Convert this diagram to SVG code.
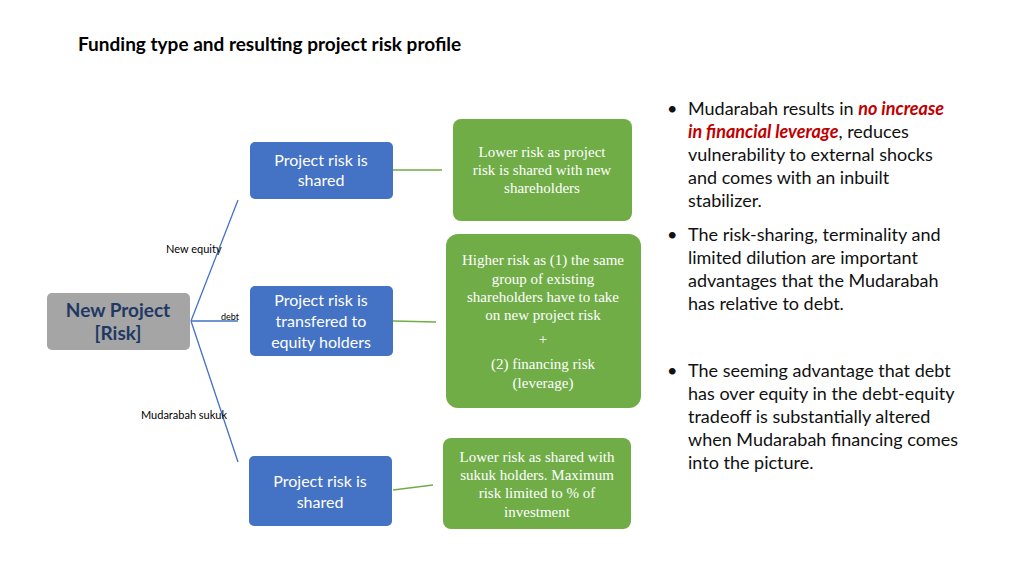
<svg xmlns="http://www.w3.org/2000/svg" width="1024" height="575" viewBox="0 0 1024 575">
<style>
.s{font-family:Lato,"Open Sans",sans-serif}
.b{fill:#4472c4}
.g{fill:#70ad47}
.bt{font-family:Lato,"Open Sans",sans-serif;font-size:16px;fill:#fff;text-anchor:middle}
.gt{font-family:"Liberation Serif",serif;font-size:15px;fill:#fff;text-anchor:middle}
.lb{font-family:Lato,"Open Sans",sans-serif;fill:#000}
.bl{font-family:Lato,"Open Sans",sans-serif;font-size:18px;fill:#111}
</style>
<rect width="1024" height="575" fill="#fff"/>
<text x="78" y="51" class="s" font-size="19" font-weight="bold">Funding type and resulting project risk profile</text>
<g id="connectors" fill="none">
<path d="M191 321 L238 200 M191 321 L238 321 M191 321 L238 462" stroke="#4472c4" stroke-width="1.3"/>
<path d="M393 170 L442 170 M393 321 L436 322 M393 490 L433 485" stroke="#70ad47" stroke-width="1.3"/>
<text x="166" y="253" class="lb" font-size="11">New equity</text>
<text x="221" y="320" class="lb" font-size="9">debt</text>
<text x="141" y="419" class="lb" font-size="11">Mudarabah sukuk</text>
</g>
<g id="root"><rect x="47" y="293" width="143" height="57" rx="5" fill="#a5a5a5"/>
<text x="118" y="317" class="s" font-size="19" font-weight="bold" fill="#1f3864" text-anchor="middle">New Project</text>
<text x="118" y="340" class="s" font-size="19" font-weight="bold" fill="#1f3864" text-anchor="middle">[Risk]</text></g>
<g id="b1"><rect x="250" y="142" width="143" height="57" rx="5" class="b"/>
<text x="321" y="166" class="bt">Project risk is</text><text x="321" y="186" class="bt">shared</text></g>
<g id="b2"><rect x="250" y="286" width="143" height="70" rx="5" class="b"/>
<text x="321" y="306" class="bt">Project risk is</text><text x="321" y="327" class="bt">transfered to</text><text x="321" y="348" class="bt">equity holders</text></g>
<g id="b3"><rect x="249" y="456" width="143" height="70" rx="5" class="b"/>
<text x="320" y="487" class="bt">Project risk is</text><text x="320" y="508" class="bt">shared</text></g>
<g id="g1"><rect x="453" y="119" width="179" height="102" rx="8" class="g"/>
<text x="542" y="157" class="gt">Lower risk as project</text><text x="542" y="175" class="gt">risk is shared with new</text><text x="542" y="193" class="gt">shareholders</text></g>
<g id="g2"><rect x="446" y="234" width="195" height="174" rx="12" class="g"/>
<text x="543" y="265" class="gt">Higher risk as (1) the same</text><text x="543" y="284" class="gt">group of existing</text><text x="543" y="302" class="gt">shareholders have to take</text><text x="543" y="320" class="gt">on new project risk</text><text x="543" y="344" class="gt">+</text><text x="543" y="369" class="gt">(2) financing risk</text><text x="543" y="388" class="gt">(leverage)</text></g>
<g id="g3"><rect x="443" y="438" width="188" height="91" rx="8" class="g"/>
<text x="537" y="462" class="gt">Lower risk as shared  with</text><text x="537" y="480" class="gt">sukuk holders. Maximum</text><text x="537" y="498" class="gt">risk limited to % of</text><text x="537" y="517" class="gt">investment</text></g>
<g id="bullets">
<text x="667" y="115" class="bl">•</text>
<text x="688" y="115" class="bl">Mudarabah results in <tspan fill="#c00000" font-weight="bold" font-style="italic">no increase</tspan></text>
<text x="688" y="138" class="bl"><tspan fill="#c00000" font-weight="bold" font-style="italic">in financial leverage</tspan>, reduces</text>
<text x="688" y="161" class="bl">vulnerability to external shocks</text>
<text x="688" y="184" class="bl">and comes with an inbuilt</text>
<text x="688" y="207" class="bl">stabilizer.</text>
<text x="667" y="241" class="bl">•</text>
<text x="688" y="241" class="bl">The risk-sharing, terminality and</text>
<text x="688" y="264" class="bl">limited dilution are important</text>
<text x="688" y="287" class="bl">advantages that the Mudarabah</text>
<text x="688" y="310" class="bl">has relative to debt.</text>
<text x="667" y="377" class="bl">•</text>
<text x="688" y="377" class="bl">The seeming advantage that debt</text>
<text x="688" y="400" class="bl">has over equity in the debt-equity</text>
<text x="688" y="423" class="bl">tradeoff is substantially altered</text>
<text x="688" y="446" class="bl">when Mudarabah financing comes</text>
<text x="688" y="469" class="bl">into the picture.</text>
</g>
</svg>
